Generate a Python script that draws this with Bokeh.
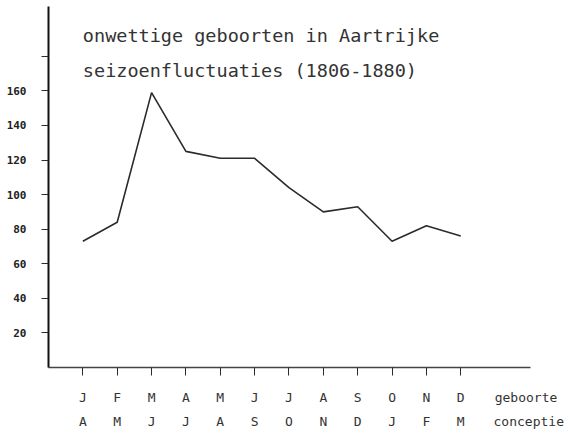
from bokeh.plotting import figure
from bokeh.models import LinearAxis, FixedTicker, Label, Range1d
from bokeh.embed import file_html
from bokeh.resources import INLINE

# ---- data ----
month_pos = [1, 2, 3, 4, 5, 6, 7, 8, 9, 10, 11, 12]
birth_months = ["J", "F", "M", "A", "M", "J", "J", "A", "S", "O", "N", "D"]
conception_months = ["A", "M", "J", "J", "A", "S", "O", "N", "D", "J", "F", "M"]
births = [73, 84, 159, 125, 121, 121, 104, 90, 93, 73, 82, 76]
y_ticks = [20, 40, 60, 80, 100, 120, 140, 160, 180]
y_tick_labels = ["20", "40", "60", "80", "100", "120", "140", "160", ""]
title_lines = ["onwettige geboorten in Aartrijke", "seizoenfluctuaties (1806-1880)"]
title_y = [192, 171.5]
row_names = ["geboorte", "conceptie"]
row_name_pos = [13.9, 13.98]

MONO = "DejaVu Sans Mono"
INK = "#2b2b2b"

p = figure(width=564, height=431, x_range=Range1d(0, 14.03), y_range=Range1d(0, 208.8),
           output_backend="svg", toolbar_location=None,
           x_axis_location=None, y_axis_location=None,
           min_border_left=48, min_border_right=34, min_border_top=6, min_border_bottom=64)
p.xgrid.visible = False
p.ygrid.visible = False
p.outline_line_color = None
p.background_fill_color = "white"
p.border_fill_color = "white"

# y axis
yaxis = LinearAxis(ticker=FixedTicker(ticks=y_ticks),
                   major_label_overrides={t: l for t, l in zip(y_ticks, y_tick_labels)},
                   major_tick_out=7, major_tick_in=0, minor_tick_out=0, minor_tick_in=0,
                   major_tick_line_color=INK, major_tick_line_width=1,
                   axis_line_color="#111", axis_line_width=2,
                   major_label_text_font=MONO, major_label_text_font_size="11px",
                   major_label_text_font_style="bold", major_label_text_color="#222",
                   major_label_standoff=15)
p.add_layout(yaxis, "left")

# x axis line with month ticks (no labels)
xaxis0 = LinearAxis(ticker=FixedTicker(ticks=month_pos),
                    major_label_overrides={m: "" for m in month_pos},
                    major_label_text_font_size="1px", major_label_standoff=0,
                    major_tick_out=8, major_tick_in=0, minor_tick_out=0, minor_tick_in=0,
                    major_tick_line_color=INK, axis_line_color="#444", axis_line_width=1.5)
p.add_layout(xaxis0, "below")

row1_ticks = month_pos + [row_name_pos[0]]
row1_labels = birth_months + [row_names[0]]
xaxis1 = LinearAxis(ticker=FixedTicker(ticks=row1_ticks),
                    major_label_overrides={m: l for m, l in zip(row1_ticks, row1_labels)},
                    major_tick_out=0, major_tick_in=0, minor_tick_out=0, minor_tick_in=0,
                    major_tick_line_color=None, axis_line_color=None,
                    major_label_text_font=MONO, major_label_text_font_size="13px",
                    major_label_text_color="#333", major_label_standoff=14)
p.add_layout(xaxis1, "below")

row2_ticks = month_pos + [row_name_pos[1]]
row2_labels = conception_months + [row_names[1]]
xaxis2 = LinearAxis(ticker=FixedTicker(ticks=row2_ticks),
                    major_label_overrides={m: l for m, l in zip(row2_ticks, row2_labels)},
                    major_tick_out=0, major_tick_in=0, minor_tick_out=0, minor_tick_in=0,
                    major_tick_line_color=None, axis_line_color=None,
                    major_label_text_font=MONO, major_label_text_font_size="13px",
                    major_label_text_color="#333", major_label_standoff=6)
p.add_layout(xaxis2, "below")

p.line(month_pos, births, line_color=INK, line_width=1.6)

for txt, yv in zip(title_lines, title_y):
    p.add_layout(Label(x=1, y=yv, text=txt, text_font=MONO, text_font_size="18.5px",
                       text_color="#333", text_align="left", text_baseline="middle"))

open("out.html", "w").write(file_html(p, INLINE))
